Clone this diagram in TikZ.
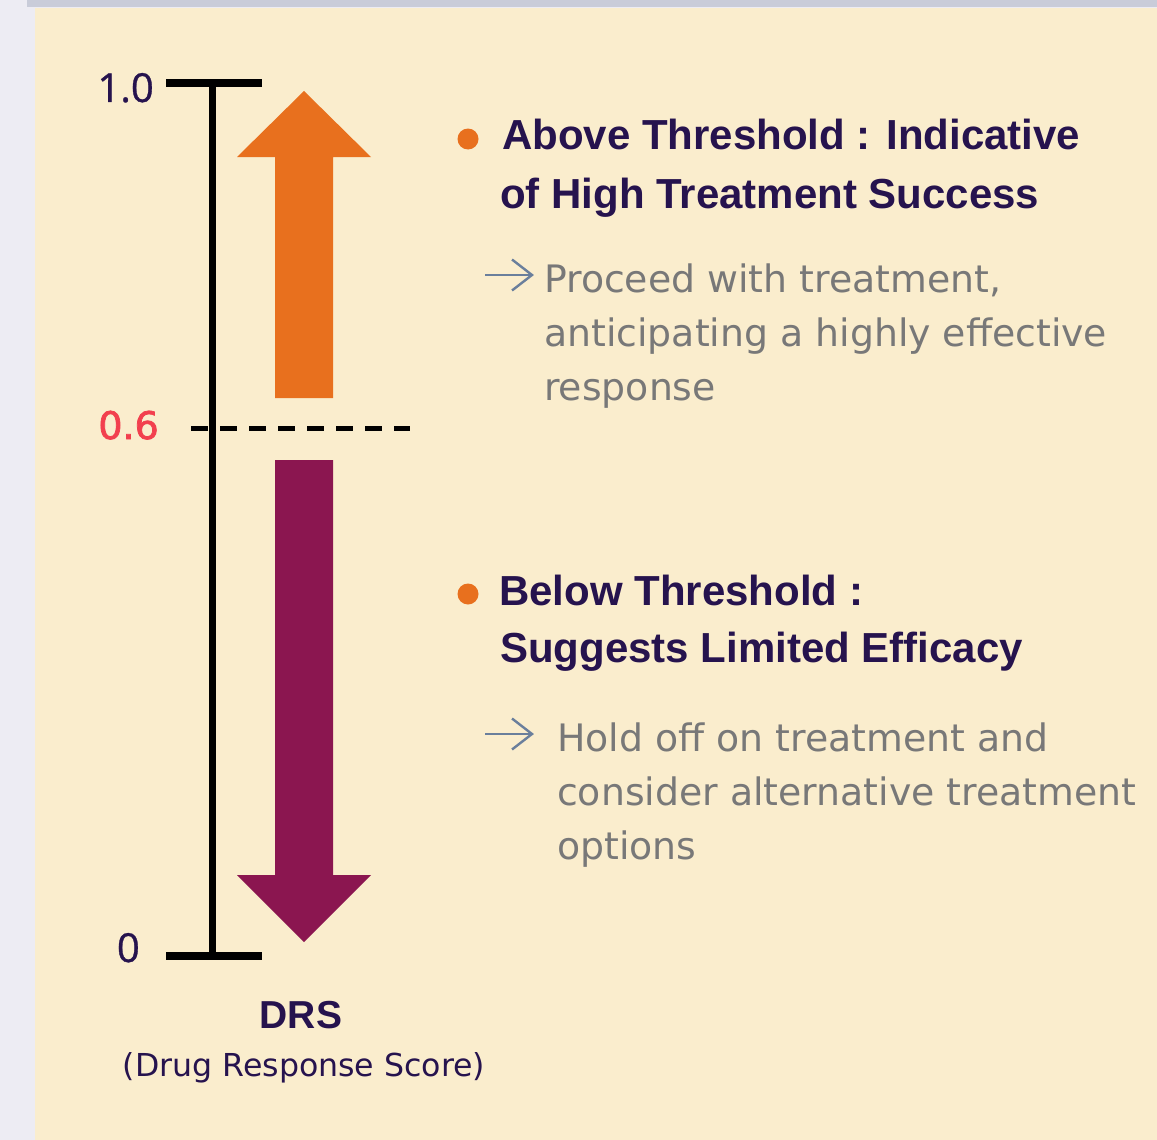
\documentclass[tikz,border=0pt]{standalone}
\usepackage{fontspec}
\newfontfamily\headfont{Liberation Sans}
\newfontfamily\bodyfont{DejaVu Sans}
\newfontfamily\markfont[FakeBold=2]{DejaVu Sans}
\newfontfamily\axisfont[FakeBold=0.8]{Open Sans}

\definecolor{pagegrey}{HTML}{EDECF3}
\definecolor{topbar}{HTML}{C9CCD9}
\definecolor{cream}{HTML}{FAEDCD}
\definecolor{ink}{HTML}{26134E}
\definecolor{upcol}{HTML}{E8701E}
\definecolor{downcol}{HTML}{8B1650}
\definecolor{threshred}{HTML}{F2404E}
\definecolor{notegrey}{HTML}{787878}
\definecolor{pointer}{HTML}{6A7F9C}

\tikzset{
  heading/.style={inner sep=0pt, anchor=base west, text=ink,
    font=\headfont\bfseries\fontsize{42}{50}\selectfont},
  note/.style={inner sep=0pt, anchor=base west, text=notegrey,
    font=\bodyfont\fontsize{37.8}{45}\selectfont},
  ticklabel/.style={inner sep=0pt, anchor=base east, text=ink,
    font=\axisfont\fontsize{40}{48}\selectfont},
  bulletdot/.style={circle, fill=upcol, minimum size=21pt, inner sep=0pt},
  axisline/.style={line width=7pt, black},
  tickline/.style={line width=8pt, black},
  pointerline/.style={pointer, line width=2.4pt, line join=miter},
}

\begin{document}
\begin{tikzpicture}[x=1pt, y=-1pt]
\useasboundingbox (0,0) rectangle (1157,1140);

% page backdrop and panel
\fill[pagegrey] (0,0) rectangle (1157,1140);
\fill[topbar] (27,0) rectangle (1157,7.5);
\fill[cream] (35,8) rectangle (1157,1140);

% scale
\coordinate (top) at (212,83);
\coordinate (bottom) at (212,956);
\draw[axisline] (top) -- (bottom);
\draw[tickline] (166,83) -- (262,83);
\draw[tickline] (166,956) -- (262,956);
\draw[line width=5pt, dash pattern=on 17pt off 12pt] (191,428) -- (410,428);

\node[ticklabel] (one) at (154,102) {1.0};
\node[ticklabel] (zero) at (140,962) {0};
\node[inner sep=0pt, anchor=base east, text=threshred,
  font=\markfont\fontsize{38}{46}\selectfont] (thr) at (159,439) {0.6};

% block arrows
\fill[upcol] (275,398) -- (333,398) -- (333,157) -- (371,157)
  -- (304,91) -- (237,157) -- (275,157) -- cycle;
\fill[downcol] (275,460) -- (333,460) -- (333,875) -- (371,875)
  -- (304,942) -- (237,875) -- (275,875) -- cycle;

% axis caption
\node[inner sep=0pt, anchor=base, text=ink,
  font=\headfont\bfseries\fontsize{39}{46}\selectfont] (drs) at (301,1028) {DRS};
\node[inner sep=0pt, anchor=base, text=ink,
  font=\bodyfont\fontsize{31.6}{38}\selectfont] (drsfull) at (304,1076) {(Drug Response Score)};

% upper explanation
\node[bulletdot] (b1) at (468,139) {};
\node[heading] (h1a) at (502,149) {Above Threshold : Indicative};
\node[heading] (h1b) at (500,208) {of High Treatment Success};
\draw[pointerline] (485,275) -- (532,275);
\draw[pointerline] (512,259.5) -- (532,275) -- (512,290.5);
\node[note] (n1a) at (544,292) {Proceed with treatment,};
\node[note] (n1b) at (544,346) {anticipating a highly effective};
\node[note] (n1c) at (544,400) {response};

% lower explanation
\node[bulletdot] (b2) at (468,594) {};
\node[heading] (h2a) at (499,605) {Below Threshold :};
\node[heading] (h2b) at (500,662) {Suggests Limited Efficacy};
\draw[pointerline] (485,734) -- (532,734);
\draw[pointerline] (512,718.5) -- (532,734) -- (512,749.5);
\node[note] (n2a) at (557,751) {Hold off on treatment and};
\node[note] (n2b) at (557,805) {consider alternative treatment};
\node[note] (n2c) at (557,859) {options};
\end{tikzpicture}
\end{document}
